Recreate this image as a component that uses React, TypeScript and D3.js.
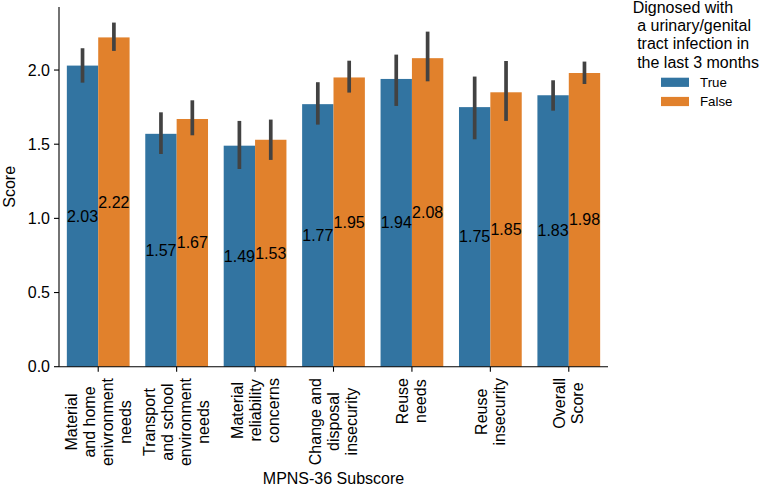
import * as d3 from 'd3'

const categories = [
  ['Material', 'and home', 'enivronment', 'needs'],
  ['Transport', 'and school', 'environment', 'needs'],
  ['Material', 'reliability', 'concerns'],
  ['Change and', 'disposal', 'insecurity'],
  ['Reuse', 'needs'],
  ['Reuse', 'insecurity'],
  ['Overall', 'Score'],
]
const hues = ['True', 'False']
const trueMeans = [2.03, 1.57, 1.49, 1.77, 1.94, 1.75, 1.83]
const falseMeans = [2.22, 1.67, 1.53, 1.95, 2.08, 1.85, 1.98]
const trueLow = [1.915, 1.434, 1.333, 1.632, 1.758, 1.533, 1.726]
const trueHigh = [2.147, 1.715, 1.657, 1.918, 2.104, 1.956, 1.931]
const falseLow = [2.129, 1.56, 1.394, 1.848, 1.924, 1.657, 1.906]
const falseHigh = [2.32, 1.796, 1.666, 2.063, 2.259, 2.061, 2.057]
const yTicks = [0, 0.5, 1.0, 1.5, 2.0]
const legendTitle = ['Dignosed with', ' a urinary/genital', ' tract infection in', ' the last 3 months']

const W = 764, H = 490
const m = { l: 59, r: 608, t: 7, b: 366.7 }
const FONT = '"Liberation Sans", Arial, Helvetica, sans-serif'
const colors: Record<string, string> = { True: '#3274a1', False: '#e1812c' }

function textWidth(s: string, size: number) {
  const c = document.createElement('canvas').getContext('2d')!
  c.font = `${size}px ${FONT}`
  return c.measureText(s).width
}

export default function App() {
  const keys = categories.map(c => c.join(' '))
  const x = d3.scaleBand<string>().domain(keys).range([m.l, m.r]).paddingInner(0.2).paddingOuter(0.1)
  const xh = d3.scaleBand<string>().domain(hues).range([0, x.bandwidth()])
  const y = d3.scaleLinear().domain([0, 2.425]).range([m.b, m.t])
  const rows = hues.map(h => ({
    hue: h,
    means: h === 'True' ? trueMeans : falseMeans,
    lo: h === 'True' ? trueLow : falseLow,
    hi: h === 'True' ? trueHigh : falseHigh,
  }))
  const lineH = 18

  return (
    <svg width={W} height={H} style={{ position: 'absolute', left: 0, top: 0, fontFamily: FONT }}>
      <rect width={W} height={H} fill="white" />
      {rows.map(r => r.means.map((v, i) => {
        const bx = x(keys[i])! + xh(r.hue)!
        const cx = bx + xh.bandwidth() / 2
        return (
          <g key={r.hue + i}>
            <rect x={bx} y={y(v)} width={xh.bandwidth()} height={y(0) - y(v)} fill={colors[r.hue]} />
            <line x1={cx} x2={cx} y1={y(r.lo[i])} y2={y(r.hi[i])} stroke="#424242" strokeWidth={3.7} />
            <text x={cx} y={y(v / 2)} textAnchor="middle" dominantBaseline="central" fontSize={16} fill="#000">{v.toFixed(2)}</text>
          </g>
        )
      }))}
      {/* axes */}
      <line x1={m.l} x2={m.l} y1={m.t} y2={m.b} stroke="#000" strokeWidth={1.1} />
      <line x1={m.l} x2={m.r} y1={m.b} y2={m.b} stroke="#000" strokeWidth={1.1} />
      {yTicks.map(t => (
        <g key={t}>
          <line x1={m.l - 5} x2={m.l} y1={y(t)} y2={y(t)} stroke="#000" strokeWidth={1.1} />
          <text x={m.l - 9} y={y(t)} textAnchor="end" dominantBaseline="central" fontSize={16}>{t.toFixed(1)}</text>
        </g>
      ))}
      {categories.map((lines, i) => {
        const tx = x(keys[i])! + x.bandwidth() / 2
        const bw = Math.max(...lines.map(s => textWidth(s, 16)))
        const n = lines.length
        return (
          <g key={i}>
            <line x1={tx} x2={tx} y1={m.b} y2={m.b + 5} stroke="#000" strokeWidth={1.1} />
            <g transform={`translate(${tx},378) rotate(-90)`}>
              {lines.map((s, j) => (
                <text key={j} x={-bw / 2} y={(j - (n - 1) / 2) * lineH} textAnchor="middle" dominantBaseline="central" fontSize={16}>{s}</text>
              ))}
            </g>
          </g>
        )
      })}
      <text transform={`translate(15,${(m.t + m.b) / 2}) rotate(-90)`} textAnchor="middle" fontSize={16}>Score</text>
      <text x={(m.l + m.r) / 2} y={484} textAnchor="middle" fontSize={16}>MPNS-36 Subscore</text>
      {/* legend */}
      {legendTitle.map((s, i) => (
        <text key={i} x={632.7} y={12.5 + i * 18.4} fontSize={16} style={{ whiteSpace: 'pre' }}>{s}</text>
      ))}
      {hues.map((h, i) => (
        <g key={h}>
          <rect x={661} y={77.7 + i * 19.2} width={28} height={9.2} fill={colors[h]} />
          <text x={700} y={86.7 + i * 19.2} fontSize={13.3}>{h}</text>
        </g>
      ))}
    </svg>
  )
}
